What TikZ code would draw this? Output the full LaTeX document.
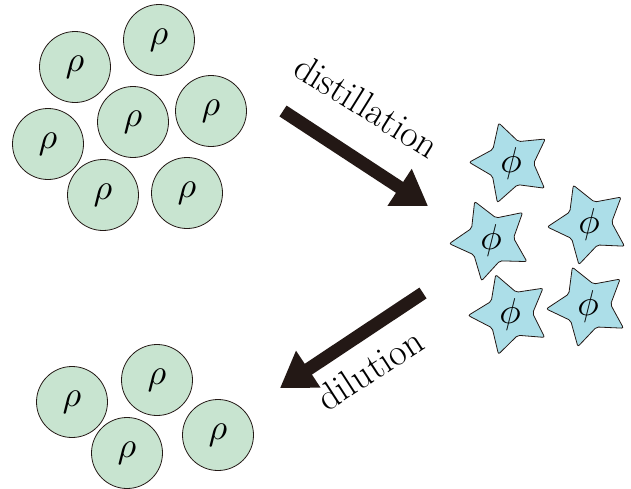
\documentclass[tikz,border=0pt]{standalone}
\DeclareFontShape{OML}{cmm}{m}{it}{<->cmmi10}{}
\usetikzlibrary{shapes.geometric,arrows.meta}
\definecolor{cfill}{RGB}{200,228,208}
\definecolor{sfill}{RGB}{172,222,232}
\definecolor{ink}{RGB}{35,24,21}
\begin{document}
\begin{tikzpicture}[x=1pt,y=-1pt,
  rhoball/.style={circle, draw=ink, line width=0.8pt, fill=cfill, minimum size=71pt, inner sep=0pt,
    font=\fontsize{36}{42}\selectfont},
  phistar/.style={star, star points=5, star point ratio=1.85, draw=ink, line width=0.8pt, fill=sfill,
    minimum size=83pt, inner sep=0pt, rounded corners=2pt, font=\fontsize{36}{42}\selectfont},
  bigarrow/.style={draw=ink, line width=13pt, -{Triangle[length=34pt,width=42pt]}},
  lbl/.style={inner sep=0pt, anchor=base, font=\fontsize{38}{44}\selectfont}]
\useasboundingbox (0,0) rectangle (631,488);
% top group
\node[rhoball] (r1) at (75,67) {$\rho$};
\node[rhoball] (r2) at (159,40) {$\rho$};
\node[rhoball] (r3) at (133,122) {$\rho$};
\node[rhoball] (r4) at (211,111) {$\rho$};
\node[rhoball] (r5) at (48,144) {$\rho$};
\node[rhoball] (r6) at (103,195) {$\rho$};
\node[rhoball] (r7) at (187,193) {$\rho$};
% stars
\node[phistar, shape border rotate=17] (s1) at (511,163) {$\phi$};
\node[phistar, shape border rotate=23] (s2) at (491,240) {$\phi$};
\node[phistar, shape border rotate=22] (s3) at (589,224) {$\phi$};
\node[phistar, shape border rotate=20] (s4) at (510,314) {$\phi$};
\node[phistar, shape border rotate=22] (s5) at (588,306) {$\phi$};
% bottom group
\node[rhoball] (b1) at (72,402) {$\rho$};
\node[rhoball] (b2) at (157,380) {$\rho$};
\node[rhoball] (b3) at (127,453) {$\rho$};
\node[rhoball] (b4) at (218,435) {$\rho$};
% arrows
\coordinate (d1) at (283,111);
\coordinate (d2) at (428,206);
\draw[bigarrow] (d1) -- (d2);
\node[lbl, rotate=-32] (tdist) at (360,117) {distillation};
\coordinate (u1) at (423,293);
\coordinate (u2) at (280,388);
\draw[bigarrow] (u1) -- (u2);
\node[lbl, rotate=33] (tdil) at (377,380) {dilution};
\end{tikzpicture}
\end{document}
